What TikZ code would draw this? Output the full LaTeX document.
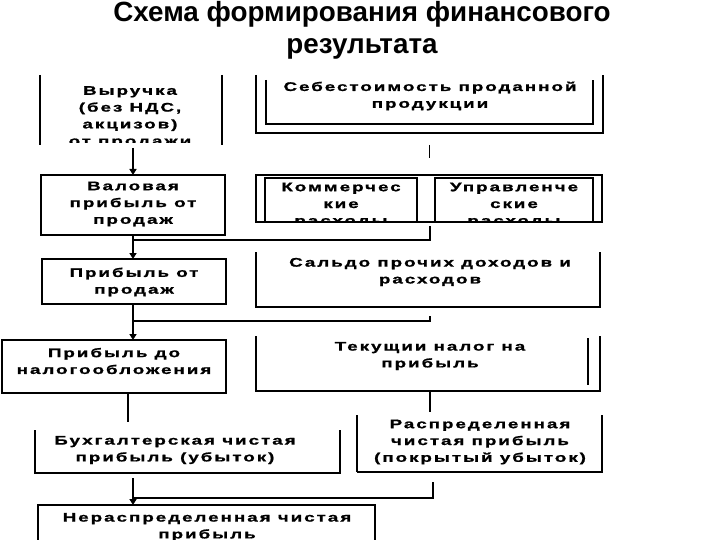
\documentclass[tikz,border=0pt]{standalone}
\usepackage{fontspec}
\setmainfont{Liberation Sans}
\newfontfamily\bodyfont{Liberation Sans Bold}[FakeStretch=1.5,LetterSpace=16,FakeBold=1.2]
\usetikzlibrary{arrows.meta}
\begin{document}
\begin{tikzpicture}[x=1pt,y=-1pt,line width=1.2pt,
  frame/.style={draw=none,inner sep=0pt,outer sep=0pt},
  txt/.style={font=\bodyfont\fontsize{12.5}{16.8}\selectfont,align=center,inner sep=0pt},
  flow/.style={line width=2.2pt,-{Triangle[width=7pt,length=6pt]}},
  conn/.style={line width=1.2pt}]
\useasboundingbox[fill=white] (0,0) rectangle (720,540);
% title
\node[font=\bfseries\fontsize{27.8}{32}\selectfont,align=center,inner sep=0pt] (title) at (362,30) {Схема формирования финансового\\результата};
% box frames
\node[frame,minimum width=182pt,minimum height=70pt] (rev) at (131,110) {};
\node[frame,minimum width=347pt,minimum height=58pt] (costo) at (429.5,104) {};
\node[frame,minimum width=327pt,minimum height=44pt] (costi) at (429.5,102) {};
\node[frame,minimum width=184pt,minimum height=60pt] (gross) at (133,205) {};
\node[frame,minimum width=346pt,minimum height=47pt] (exp) at (429,198.5) {};
\node[frame,minimum width=152pt,minimum height=44pt] (comm) at (341,200) {};
\node[frame,minimum width=158pt,minimum height=44pt] (mgmt) at (514,200) {};
\node[frame,minimum width=184pt,minimum height=45pt] (profit) at (134,281.5) {};
\node[frame,minimum width=344pt,minimum height=55pt] (saldo) at (428,279.5) {};
\node[frame,minimum width=224pt,minimum height=53pt] (pretax) at (114,366.5) {};
\node[frame,minimum width=344pt,minimum height=55pt] (tax) at (428,363.5) {};
\node[frame,minimum width=305pt,minimum height=43pt] (acct) at (187.5,451.5) {};
\node[frame,minimum width=245pt,minimum height=57pt] (dist) at (479.5,443.5) {};
\node[frame,minimum width=337pt,minimum height=55pt] (undist) at (206.5,532.5) {};
% borders
\draw (rev.north west) -- (rev.south west);
\draw (rev.north east) -- (rev.south east);
\draw (costo.north west) -- (costo.south west) -- (costo.south east) -- (costo.north east);
\draw (costi.north west) -- (costi.south west) -- (costi.south east) -- (costi.north east);
\draw (gross.north west) rectangle (gross.south east);
\draw (exp.north west) rectangle (exp.south east);
\draw (comm.south west) -- (comm.north west) -- (comm.north east) -- (comm.south east);
\draw (mgmt.south west) -- (mgmt.north west) -- (mgmt.north east) -- (mgmt.south east);
\draw (profit.north west) rectangle (profit.south east);
\draw (saldo.north west) -- (saldo.south west) -- (saldo.south east) -- (saldo.north east);
\draw (pretax.north west) rectangle (pretax.south east);
\draw (tax.north west) -- (tax.south west) -- (tax.south east) -- (tax.north east);
\draw ([xshift=-12pt,yshift=-2pt]tax.north east) -- ([xshift=-12pt,yshift=6pt]tax.south east);
\draw (acct.north west) -- (acct.south west) -- (acct.south east) -- (acct.north east);
\draw (dist.south west) -- (dist.south east) -- (dist.north east);
\draw[line width=2pt] (dist.north west) -- (dist.south west);
\draw (undist.south west) -- (undist.north west) -- (undist.north east) -- (undist.south east);
% texts
\begin{scope}
\clip ([yshift=2pt]rev.south west) rectangle (rev.north east);
\node[txt] (revT) at (130,117) {Выручка\\(без НДС,\\акцизов)\\от продажи};
\end{scope}
\node[txt] (costT) at (430,96) {Себестоимость проданной\\продукции};
\node[txt] (grossT) at (133,204) {Валовая\\прибыль от\\продаж};
\begin{scope}
\clip (exp.north west) rectangle (exp.south east);
\node[txt] (commT) at (341,205) {Коммерчес\\кие\\расходы};
\node[txt] (mgmtT) at (514,205) {Управленче\\ские\\расходы};
\end{scope}
\node[txt] (profitT) at (134,282) {Прибыль от\\продаж};
\node[txt] (saldoT) at (430,272) {Сальдо прочих доходов и\\расходов};
\node[txt] (pretaxT) at (114,361) {Прибыль до\\налогообложения};
\node[txt] (taxT) at (430,356) {Текущии налог на\\прибыль};
\node[txt] (acctT) at (175,450) {Бухгалтерская чистая\\прибыль (убыток)};
\node[txt] (distT) at (480,442) {Распределенная\\чистая прибыль\\(покрытый убыток)};
\node[txt] (undistT) at (207,527) {Нераспределенная чистая\\прибыль};
% connectors
\coordinate (a1) at (133,148);
\draw[flow] (a1) -- (a1 |- gross.north);
\draw[conn] ([yshift=-12pt]costo.south) -- ([yshift=-25pt]costo.south);
\coordinate (j1) at (430,240);
\draw[conn] ([yshift=-4pt]exp.south -| j1) -- (j1) -- (j1 -| gross.south);
\draw[flow] (gross.south) -- (gross.south |- profit.north);
\coordinate (j2) at (430,321);
\draw[conn] ([yshift=-9pt]saldo.south -| j2) -- (j2) -- (j2 -| gross.south);
\draw[flow] (gross.south |- profit.south) -- (gross.south |- pretax.north);
\coordinate (c4) at (128,422);
\draw[conn] (c4 |- pretax.south) -- (c4);
\coordinate (c5) at (430,412);
\draw[conn] (c5 |- tax.south) -- (c5);
\coordinate (a5) at (133,478);
\draw[flow] (a5) -- (a5 |- undist.north);
\coordinate (j3) at (433,498);
\draw[conn] ([yshift=-10pt]dist.south -| j3) -- (j3) -- (j3 -| a5);
\end{tikzpicture}
\end{document}
